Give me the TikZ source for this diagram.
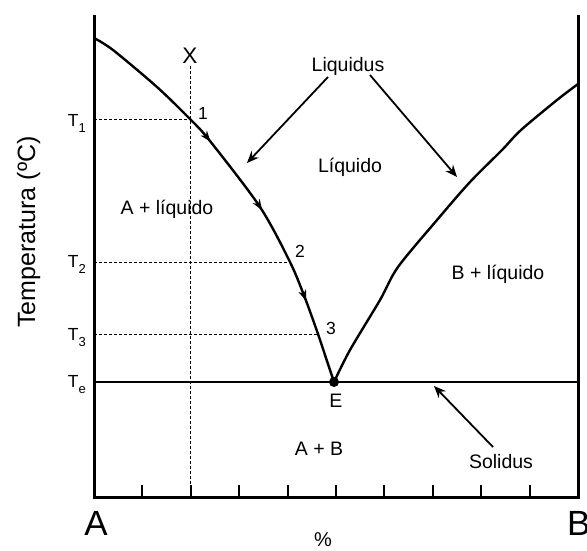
\documentclass[tikz,border=0pt]{standalone}
\usepackage{fontspec}
\setmainfont{Liberation Sans}
\usetikzlibrary{arrows.meta,decorations.markings}
\newcommand{\sub}[1]{\raisebox{-6pt}{\fontsize{13}{13}\selectfont #1}}
\begin{document}
\begin{tikzpicture}[x=1pt,y=-1pt,
  axis/.style={line width=3pt,line join=miter},
  curve/.style={line width=2.4pt},
  guide/.style={line width=1pt,dash pattern=on 3pt off 2pt},
  tick/.style={line width=2pt},
  ptr/.style={line width=1.8pt,-{Stealth[length=12pt,width=10pt,inset=4pt]}},
  lbl/.style={font=\fontsize{19.5}{20}\selectfont,inner sep=0pt,anchor=base},
  num/.style={font=\fontsize{17.5}{18}\selectfont,inner sep=0pt,anchor=base},
  tlbl/.style={font=\fontsize{17.5}{18}\selectfont,inner sep=0pt,anchor=base east},
  big/.style={font=\fontsize{35}{36}\selectfont,inner sep=0pt,anchor=base},
  midarrow/.style={postaction={decorate},decoration={markings,
    mark=at position 0.365 with {\arrow{Stealth[length=11pt,width=8pt]}},
    mark=at position 0.565 with {\arrow{Stealth[length=11pt,width=8pt]}},
    mark=at position 0.80 with {\arrow{Stealth[length=11pt,width=8pt]}}}}
]
\useasboundingbox (0,0) rectangle (587,550);

% coordinates
\coordinate (O) at (94,497);
\coordinate (Atop) at (94,15);
\coordinate (Bbot) at (578,497);
\coordinate (Btop) at (578,15);
\coordinate (E) at (334,382);
\coordinate (SL) at (94,382);
\coordinate (SR) at (578,382);
\coordinate (Xt) at (190,66);
\coordinate (Xb) at (190,497);
\coordinate (P1) at (190,119);
\coordinate (P2) at (290,262);
\coordinate (P3) at (318,334);
\coordinate (Y1) at (94,119);
\coordinate (Y2) at (94,262);
\coordinate (Y3) at (94,334);

% axes
\draw[axis] (Atop) -- (O) -- (Bbot) -- (Btop);
\foreach \k in {1,...,9}{
  \draw[tick] ({94+48.4*\k},497) -- ({94+48.4*\k},485);
}

% guides
\draw[guide] (Xt) -- (Xb);
\draw[guide] (Y1) -- (P1);
\draw[guide] (Y2) -- (P2);
\draw[guide] (Y3) -- (P3);

% solidus
\draw[curve] (SL) -- (SR);

% liquidus curves
\draw[curve,midarrow] plot[smooth,tension=0.5] coordinates {(94,38) (113,50) (157,87) (190,119) (210,141) (260,207) (290,262) (305,298) (318,334) (326,358) (334,382)};
\draw[curve] plot[smooth,tension=0.5] coordinates {(334,382) (350,350) (380,300) (398,267) (437,220) (470,182) (502,150) (521,130) (557,100) (578,84)};

\fill (E) circle (5);

% labels
\node[big] (A) at (96,535) {A};
\node[big,anchor=base west] (B) at (567,535) {B};
\node[font=\fontsize{20}{20}\selectfont,inner sep=0pt,anchor=base] (pct) at (323,546) {\%};
\node[font=\fontsize{25}{25}\selectfont,inner sep=0pt,anchor=base,rotate=90] (ylab) at (35,232) {Temperatura (ºC)};
\node[font=\fontsize{22.5}{23}\selectfont,inner sep=0pt,anchor=base] (X) at (190,63) {X};

\node[tlbl] (T1) at (86,126) {T\sub{1}};
\node[tlbl] (T2) at (86,267) {T\sub{2}};
\node[tlbl] (T3) at (86,340) {T\sub{3}};
\node[tlbl] (Te) at (86,387) {T\sub{e}};

\node[num] (n1) at (203,119) {1};
\node[num] (n2) at (300,257) {2};
\node[num] (n3) at (331,334) {3};
\node[lbl] (Elab) at (336,407) {E};

\node[lbl] (liq) at (348,71) {Liquidus};
\node[lbl] (liquido) at (350,172) {Líquido};
\node[lbl] (AL) at (167,214) {A + líquido};
\node[lbl] (BL) at (498,279) {B + líquido};
\node[lbl] (AB) at (319,455) {A + B};
\node[lbl] (sol) at (501,468) {Solidus};

% pointers
\coordinate (la) at (328,77);
\coordinate (lat) at (247,163);
\coordinate (lb) at (370,75);
\coordinate (lbt) at (457,177);
\coordinate (sa) at (493,447);
\coordinate (sat) at (434,386);
\draw[ptr] (la) -- (lat);
\draw[ptr] (lb) -- (lbt);
\draw[ptr] (sa) -- (sat);
\end{tikzpicture}
\end{document}
